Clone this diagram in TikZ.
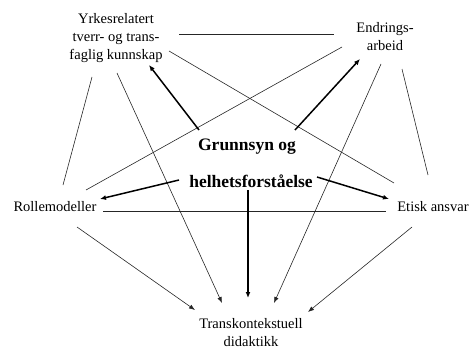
\documentclass[tikz,border=0pt]{standalone}
\usepackage{fontspec}
\setmainfont{Liberation Serif}
\newfontfamily\timesfont{Liberation Serif}
\usetikzlibrary{arrows.meta}

\begin{document}
\begin{tikzpicture}[x=1pt,y=1pt,
  lbl/.style={font=\timesfont\fontsize{14.5}{18}\selectfont,align=center,inner sep=0pt},
  core/.style={font=\timesfont\fontsize{17.5}{20}\selectfont\bfseries,inner sep=0pt},
  link/.style={line width=0.6pt,black!85},
  pil/.style={link,-{Latex[length=6pt,width=4.5pt]}},
  fat/.style={line width=1.5pt,-{Latex[length=6pt,width=5pt]}}]
\useasboundingbox (0,0) rectangle (469,349);
% the five corners
\node[lbl] (yrk) at (116,311) {Yrkesrelatert\\tverr- og trans-\\faglig kunnskap};
\node[lbl] (end) at (385,312) {Endrings-\\arbeid};
\node[lbl] (rolle) at (55,142) {Rollemodeller};
\node[lbl] (etisk) at (433,142) {Etisk ansvar};
\node[lbl] (trans) at (251,16) {Transkontekstuell\\didaktikk};
% the middle
\node[core] (grunn) at (247,202) {Grunnsyn og};
\node[core] (helhet) at (251,168) {helhetsforståelse};
% plain links
\draw[link] ([shift={(63,4)}]yrk.center) -- ([shift={(-51,3)}]end.center);
\draw[link] ([shift={(53,-13)}]yrk.center) -- ([shift={(-39,24)}]etisk.center);
\draw[link] ([shift={(-24,-39)}]yrk.center) -- ([shift={(8,22)}]rolle.center);
\draw[link] ([shift={(-43,-10)}]end.center) -- ([shift={(31,17)}]rolle.center);
\draw[link] ([shift={(17,-32)}]end.center) -- ([shift={(-5,32)}]etisk.center);
\draw[link] ([shift={(48,-4)}]rolle.center) -- ([shift={(-47,-4)}]etisk.center);
% links into didaktikk
\draw[pil] ([shift={(1,-35)}]yrk.center) -- ([shift={(-29,30)}]trans.center);
\draw[pil] ([shift={(-4,-27)}]end.center) -- ([shift={(23,30)}]trans.center);
\draw[pil] ([shift={(22,-20)}]rolle.center) -- ([shift={(-56,23)}]trans.center);
\draw[pil] ([shift={(-21,-20)}]etisk.center) -- ([shift={(57,21)}]trans.center);
% from the middle
\draw[fat] ([shift={(-48,17)}]grunn.center) -- ([shift={(33,-27)}]yrk.center);
\draw[fat] ([shift={(48,17)}]grunn.center) -- ([shift={(-25,-22)}]end.center);
\draw[fat] ([shift={(-72,1)}]helhet.center) -- ([shift={(45,8)}]rolle.center);
\draw[fat] ([shift={(66,4)}]helhet.center) -- ([shift={(-44,8)}]etisk.center);
\draw[fat] ([shift={(-3,-9)}]helhet.center) -- ([shift={(-3,35)}]trans.center);
\end{tikzpicture}
\end{document}
